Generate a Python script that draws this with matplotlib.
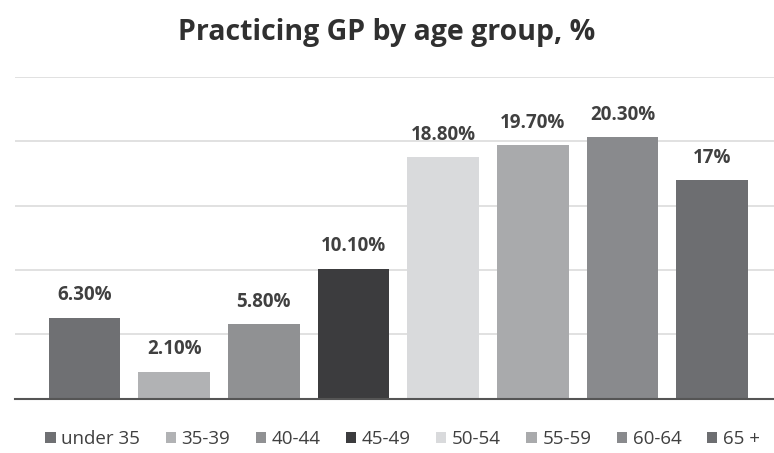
import matplotlib.pyplot as plt
import numpy as np

plt.rcParams['font.family'] = ['Open Sans', 'DejaVu Sans']

age_groups = ['under 35', '35-39', '40-44', '45-49', '50-54', '55-59', '60-64', '65 +']
shares = [6.3, 2.1, 5.8, 10.1, 18.8, 19.7, 20.3, 17.0]
value_labels = ['6.30%', '2.10%', '5.80%', '10.10%', '18.80%', '19.70%', '20.30%', '17%']
bar_colors = ['#6f7073', '#b1b2b4', '#909193', '#3c3c3e', '#d9dadc', '#a9aaac', '#898a8d', '#6d6e71']

fig = plt.figure(figsize=(7.74, 4.53), dpi=100)
ax = fig.add_axes([0.02, 0.12, 0.98, 0.71])

x = np.arange(len(age_groups))
bars = ax.bar(x, shares, width=0.8, color=bar_colors, zorder=3)

for xi, val, lab in zip(x, shares, value_labels):
    ax.text(xi, val + 0.95, lab, ha='center', va='bottom', fontsize=13.5,
            fontweight='bold', color='#404040')

ax.set_ylim(0, 25)
ax.set_xlim(-0.77, 7.69)
ax.set_yticks([5, 10, 15, 20, 25])
ax.yaxis.grid(True, color='#dcdcdc', linewidth=1.2, zorder=0)
ax.set_yticklabels([])
ax.tick_params(left=False, bottom=False, labelbottom=False)
for side in ['top', 'right', 'left']:
    ax.spines[side].set_visible(False)
ax.spines['bottom'].set_color('#555555')
ax.spines['bottom'].set_linewidth(1.5)
ax.spines['bottom'].set_zorder(4)

fig.suptitle('Practicing GP by age group, %', y=0.96, fontsize=20.5,
             fontweight='bold', color='#303030')

fig.legend(bars, age_groups, loc='lower center', bbox_to_anchor=(0.52, -0.026),
           ncol=8, frameon=False, fontsize=13.5, handlelength=0.55, handleheight=0.55,
           handletextpad=0.3, columnspacing=1.35, labelcolor='#404040')

fig.savefig('out.png', dpi=100, facecolor='white')
